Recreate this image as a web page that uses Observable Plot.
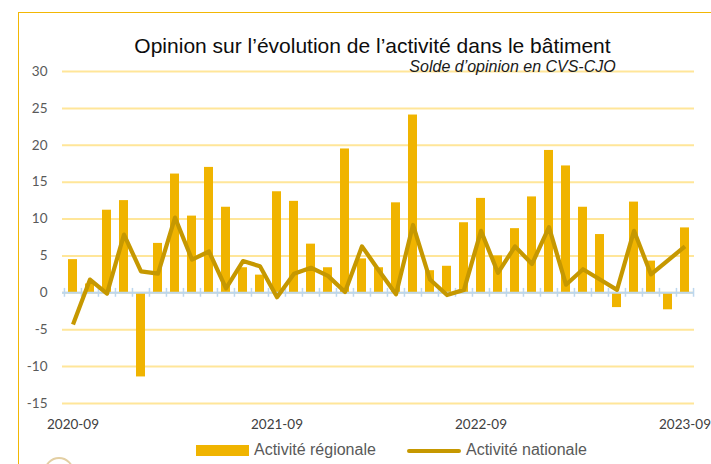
<!DOCTYPE html>
<html>
<head>
<meta charset="utf-8">
<script src="https://cdn.jsdelivr.net/npm/d3@7"></script>
<script src="https://cdn.jsdelivr.net/npm/@observablehq/plot@0.6"></script>
<style>
  body { margin: 0; background: #fff; }
  #wrap { position: relative; width: 711px; height: 464px; overflow: hidden; font-family: "Liberation Sans", Arial, sans-serif; }
  #frame { position: absolute; left: 18px; top: 12px; width: 900px; height: 700px; border-left: 1.5px solid #F2B705; border-top: 1.5px solid #F2B705; }
  #chart { position: absolute; left: 0; top: 0; }
  .txt { position: absolute; white-space: nowrap; }
  #title { left: 0; width: 745px; top: 35px; text-align: center; font-size: 21px; line-height: 21px; color: #0d0d0d; }
  #subtitle { right: 95.3px; top: 58.8px; font-size: 16px; line-height: 16px; font-style: italic; color: #1a1a1a; }
  .leg { top: 442.2px; font-size: 16px; line-height: 16px; color: #595959; }
  .sw { position: absolute; }
  #logo { position: absolute; left: 44px; top: 457px; width: 30px; height: 30px; border-radius: 50%; border: 2px solid #E3CFA3; box-sizing: border-box; }
</style>
</head>
<body>
<div id="wrap">
  <div id="frame"></div>
  <div id="chart"></div>
  <div id="title" class="txt">Opinion sur l’évolution de l’activité dans le bâtiment</div>
  <div id="subtitle" class="txt">Solde d’opinion en CVS-CJO</div>
  <div class="sw" id="swBar"></div>
  <div class="txt leg" id="legBar"></div>
  <div class="sw" id="swLine"></div>
  <div class="txt leg" id="legLine"></div>
  <div id="logo"></div>
</div>
<script>
const months = ["2020-09","2020-10","2020-11","2020-12","2021-01","2021-02","2021-03","2021-04","2021-05","2021-06","2021-07","2021-08",
  "2021-09","2021-10","2021-11","2021-12","2022-01","2022-02","2022-03","2022-04","2022-05","2022-06","2022-07","2022-08",
  "2022-09","2022-10","2022-11","2022-12","2023-01","2023-02","2023-03","2023-04","2023-05","2023-06","2023-07","2023-08","2023-09"];
const regional = [4.5, 1.2, 11.2, 12.5, -11.4, 6.7, 16.1, 10.4, 17.0, 11.6, 3.4, 2.4,
  13.7, 12.4, 6.6, 3.4, 19.5, 4.6, 3.4, 12.2, 24.1, 3.0, 3.6, 9.5,
  12.8, 5.0, 8.7, 13.0, 19.3, 17.2, 11.6, 7.9, -2.0, 12.3, 4.3, -2.3, 8.8];
const national = [-4.3, 1.8, -0.1, 7.9, 2.9, 2.6, 10.2, 4.5, 5.6, 0.6, 4.3, 3.6,
  -0.6, 2.6, 3.4, 2.3, 0.1, 6.3, 3.0, -0.2, 9.2, 1.8, -0.3, 0.4,
  8.4, 2.7, 6.3, 3.9, 8.9, 1.1, 3.2, 1.8, 0.4, 8.4, 2.5, 4.4, 6.3];
const yTicks = [-15, -10, -5, 0, 5, 10, 15, 20, 25, 30];
const xTickLabels = ["2020-09", "2021-09", "2022-09", "2023-09"];
const seriesNames = ["Activité régionale", "Activité nationale"];

const barColor = "#F0B400";
const lineColor = "#C69800";
const axisBlue = "#BDD7EE";

const data = months.map((m, i) => ({month: m, regional: regional[i], national: national[i]}));

const W = 711, H = 440, mL = 62, mR = 17, mT = 71, mB = 37;
const step = (W - mL - mR) / months.length;

const chart = Plot.plot({
  width: W, height: H,
  marginLeft: mL, marginRight: mR, marginTop: mT, marginBottom: mB,
  style: {fontFamily: "Lato, sans-serif", fontSize: "13.5px", color: "#595959", background: "transparent", overflow: "visible"},
  x: {type: "band", domain: months, paddingInner: 0.49, paddingOuter: 0.245, label: null},
  y: {domain: [-15, 30], label: null},
  marks: [
    Plot.gridY(yTicks, {stroke: "#FFE699", strokeOpacity: 1, strokeWidth: 2}),
    Plot.axisY(yTicks, {tickSize: 0, tickPadding: 15, fill: "#595959", label: null, tickFormat: d => String(d)}),
    Plot.axisX(xTickLabels, {tickSize: 0, tickPadding: 16, fill: "#404040", label: null}),
    Plot.barY(data, {x: "month", y: "regional", fill: barColor}),
    Plot.ruleY([0], {stroke: axisBlue, strokeWidth: 2}),
    Plot.ruleX(months, {x: d => d, y1: -0.6, y2: 0.6, dx: -step / 2, stroke: axisBlue, strokeWidth: 1.5}),
    Plot.ruleX([months[months.length - 1]], {x: d => d, y1: -0.6, y2: 0.6, dx: step / 2, stroke: axisBlue, strokeWidth: 1.5}),
    Plot.lineY(data, {x: "month", y: "national", stroke: lineColor, strokeWidth: 4.2, strokeLinejoin: "round", strokeLinecap: "butt"})
  ]
});
document.getElementById("chart").appendChild(chart);

// legend
const swBar = document.getElementById("swBar");
Object.assign(swBar.style, {left: "196px", top: "445px", width: "53px", height: "11px", background: barColor});
const legBar = document.getElementById("legBar");
legBar.textContent = seriesNames[0];
legBar.style.left = "254px";
const swLine = document.getElementById("swLine");
Object.assign(swLine.style, {left: "407px", top: "449px", width: "54px", height: "4px", background: lineColor, borderRadius: "2px"});
const legLine = document.getElementById("legLine");
legLine.textContent = seriesNames[1];
legLine.style.left = "466px";
</script>
</body>
</html>
